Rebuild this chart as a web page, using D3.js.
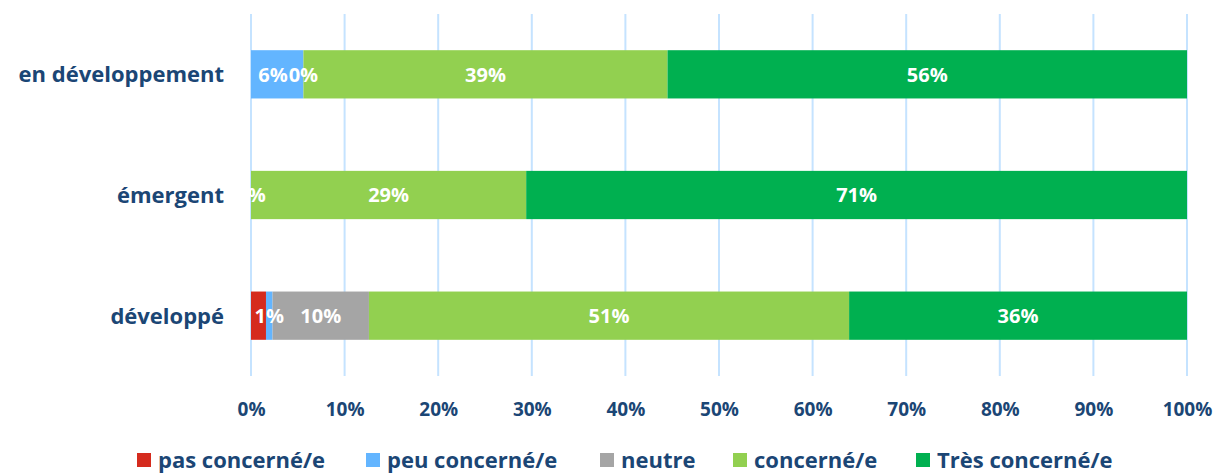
<!DOCTYPE html>
<html>
<head>
<meta charset="utf-8">
<script src="https://cdn.jsdelivr.net/npm/d3@7"></script>
<style>
  html, body { margin: 0; padding: 0; background: #ffffff; }
  svg { display: block; }
  text { font-family: "Open Sans", Lato, sans-serif; font-weight: 700; }
</style>
</head>
<body>
<svg id="chart" width="1216" height="474"></svg>
<script>
// ---- data ----
const categories = ["en développement", "émergent", "développé"];
const seriesNames = ["pas concerné/e", "peu concerné/e", "neutre", "concerné/e", "Très concerné/e"];
const seriesColors = ["#d52b1e", "#63b5ff", "#a5a5a5", "#92d050", "#00b050"];
// values (%) per series, in category order
const pasConcerne   = [0, 0, 1.6];
const peuConcerne   = [5.6, 0, 0.7];
const neutre        = [0, 0, 10.3];
const concerne      = [38.9, 29.4, 51.3];
const tresConcerne  = [55.5, 70.6, 36.1];
// labels shown on the bars (empty = hidden)
const pasLabels     = ["", "", ""];
const peuLabels     = ["6%", "", "1%"];
const neutreLabels  = ["0%", "0%", "10%"];
const concLabels    = ["39%", "29%", "51%"];
const tresLabels    = ["56%", "71%", "36%"];
const tickValues = [0, 10, 20, 30, 40, 50, 60, 70, 80, 90, 100];

const seriesValues = [pasConcerne, peuConcerne, neutre, concerne, tresConcerne];
const seriesLabels = [pasLabels, peuLabels, neutreLabels, concLabels, tresLabels];

// ---- layout ----
const svg = d3.select("#chart");
const textColor = "#1b4675";
const plot = { left: 251, right: 1187, top: 14, bottom: 376 };

const x = d3.scaleLinear().domain([0, 100]).range([plot.left, plot.right]);
const y = d3.scaleBand().domain(categories).range([plot.top, plot.bottom]).paddingInner(0.6).paddingOuter(0.3);

// gridlines
svg.append("g").selectAll("line").data(tickValues).join("line")
  .attr("x1", d => x(d)).attr("x2", d => x(d))
  .attr("y1", plot.top).attr("y2", plot.bottom)
  .attr("stroke", "#c5e3ff").attr("stroke-width", 2);

// stacked data
const rows = categories.map((c, i) => {
  let acc = 0;
  return seriesValues.map((vals, s) => {
    const seg = { cat: c, s, x0: acc, x1: acc + vals[i], label: seriesLabels[s][i] };
    acc += vals[i];
    return seg;
  });
}).flat();

const bh = y.bandwidth();
svg.append("g").selectAll("rect").data(rows.filter(d => d.x1 > d.x0)).join("rect")
  .attr("x", d => x(d.x0))
  .attr("width", d => x(d.x1) - x(d.x0))
  .attr("y", d => y(d.cat))
  .attr("height", bh)
  .attr("fill", d => seriesColors[d.s]);

// labels
const labelSel = svg.append("g").selectAll("text").data(rows.filter(d => d.label)).join("text")
  .attr("x", d => (x(d.x0) + x(d.x1)) / 2)
  .attr("y", d => y(d.cat) + bh / 2)
  .attr("dy", "0.36em")
  .attr("text-anchor", "middle")
  .attr("fill", "#ffffff")
  .attr("font-size", 20)
  .text(d => d.label);

// simple collision avoidance: push a label left if it runs into the next one
categories.forEach(c => {
  const nodes = labelSel.filter(d => d.cat === c).nodes()
    .map(n => ({ n, cx: +n.getAttribute("x"), w: n.getComputedTextLength() }))
    .sort((a, b) => a.cx - b.cx);
  for (let i = nodes.length - 2; i >= 0; i--) {
    const a = nodes[i], b = nodes[i + 1];
    const limit = (b.cx - b.w / 2) - 1;
    if (a.cx + a.w / 2 > limit) {
      a.cx = limit - a.w / 2;
      a.n.setAttribute("x", a.cx);
    }
  }
});

// category axis
svg.append("g").selectAll("text").data(categories).join("text")
  .attr("x", 224)
  .attr("y", d => y(d) + bh / 2)
  .attr("dy", "0.36em")
  .attr("text-anchor", "end")
  .attr("fill", textColor)
  .attr("font-size", 22)
  .text(d => d);

// x axis ticks
const xAxis = d3.axisBottom(x).tickValues(tickValues).tickFormat(d => d + "%").tickSize(0).tickPadding(0);
const gx = svg.append("g").attr("transform", `translate(0, 409)`).call(xAxis);
gx.select(".domain").remove();
gx.selectAll("text")
  .attr("y", 0).attr("dy", "0.36em")
  .attr("fill", textColor)
  .attr("font-size", 19)
  .style("font-family", "'Open Sans', Lato, sans-serif")
  .style("font-weight", 700);

// legend
const legendX = [137, 366, 600, 733, 916];
const lg = svg.append("g").selectAll("g").data(seriesNames).join("g")
  .attr("transform", (d, i) => `translate(${legendX[i]}, 460)`);
lg.append("rect").attr("x", 0).attr("y", -7).attr("width", 14).attr("height", 14)
  .attr("fill", (d, i) => seriesColors[i]);
lg.append("text").attr("x", 21).attr("y", 0).attr("dy", "0.36em")
  .attr("fill", textColor).attr("font-size", 22).text(d => d);
</script>
</body>
</html>
